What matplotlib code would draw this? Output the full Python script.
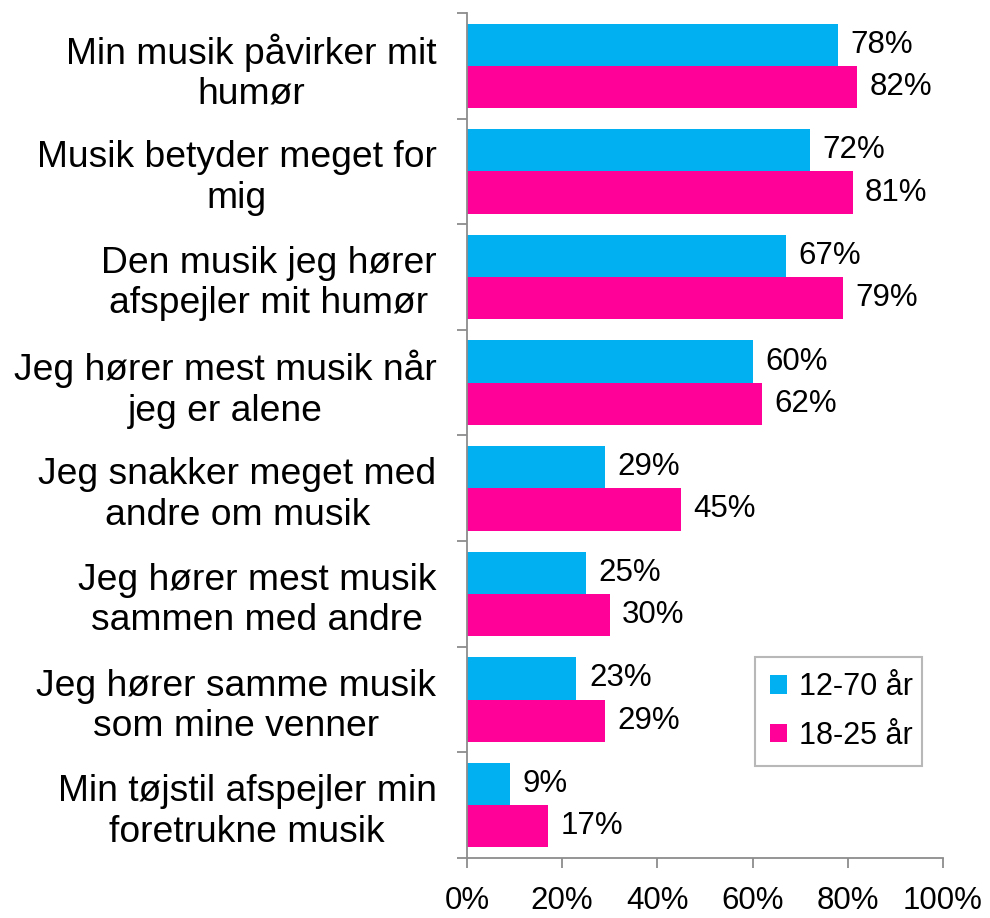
import matplotlib
matplotlib.use("Agg")
import matplotlib.pyplot as plt
from matplotlib.patches import Patch
import numpy as np

plt.rcParams['font.family'] = ['Liberation Sans', 'DejaVu Sans']

categories = [
    "Min musik påvirker mit\nhumør",
    "Musik betyder meget for\nmig",
    "Den musik jeg hører\nafspejler mit humør",
    "Jeg hører mest musik når\njeg er alene",
    "Jeg snakker meget med\nandre om musik",
    "Jeg hører mest musik\nsammen med andre",
    "Jeg hører samme musik\nsom mine venner",
    "Min tøjstil afspejler min\nforetrukne musik",
]
series_names = ["12-70 år", "18-25 år"]
values_all = [78, 72, 67, 60, 29, 25, 23, 9]
values_young = [82, 81, 79, 62, 45, 30, 29, 17]
xticks = [0, 20, 40, 60, 80, 100]
xticklabels = ["0%", "20%", "40%", "60%", "80%", "100%"]

blue = "#00B0F0"
pink = "#FF0099"
grey = "#8C8C8C"

fig = plt.figure(figsize=(9.9, 9.18), dpi=100)
ax = fig.add_axes([0.4717, 0.0654, 0.4808, 0.9204])

y = np.arange(len(categories))
h = 0.4
b1 = ax.barh(y - h / 2, values_all, height=h, color=blue, label=series_names[0])
b2 = ax.barh(y + h / 2, values_young, height=h, color=pink, label=series_names[1])

for bars, vals in ((b1, values_all), (b2, values_young)):
    for bar, v in zip(bars, vals):
        ax.annotate(f"{v}%", xy=(bar.get_width(), bar.get_y() + bar.get_height() / 2),
                    xytext=(9, 0), textcoords="offset points",
                    ha="left", va="center", fontsize=22.5, color="black")

ax.set_xlim(0, 100)
ax.set_ylim(len(categories) - 0.5, -0.5)

ax.set_xticks(xticks)
ax.set_xticklabels(xticklabels, fontsize=22.5)
ax.tick_params(axis="x", length=7, width=1.3, color=grey, pad=13)

ax.set_yticks(np.arange(len(categories) + 1) - 0.5)
ax.set_yticklabels([])
ax.set_yticks(y, minor=True)
ax.set_yticklabels(categories, minor=True, fontsize=26.8, multialignment="center")
ax.tick_params(axis="y", which="major", length=7, width=1.3, color=grey)
ax.tick_params(axis="y", which="minor", length=0, pad=22)
for lbl in ax.get_yticklabels(minor=True):
    lbl.set_multialignment("center")

for s in ("top", "right"):
    ax.spines[s].set_visible(False)
for s in ("left", "bottom"):
    ax.spines[s].set_color(grey)
    ax.spines[s].set_linewidth(1.3)

handles = [Patch(facecolor=blue, edgecolor="none"), Patch(facecolor=pink, edgecolor="none")]
leg = ax.legend(handles, series_names, loc="lower left", bbox_to_anchor=(0.605, 0.109, 0.351, 0.122),
                mode="expand", fontsize=22, frameon=True, fancybox=False, handlelength=0.55,
                handleheight=0.55, handletextpad=0.4, borderaxespad=0, labelspacing=0.6,
                borderpad=0.5)
leg.get_frame().set_edgecolor("#A6A6A6")
leg.get_frame().set_linewidth(1.5)

fig.savefig("out.png", dpi=100)
